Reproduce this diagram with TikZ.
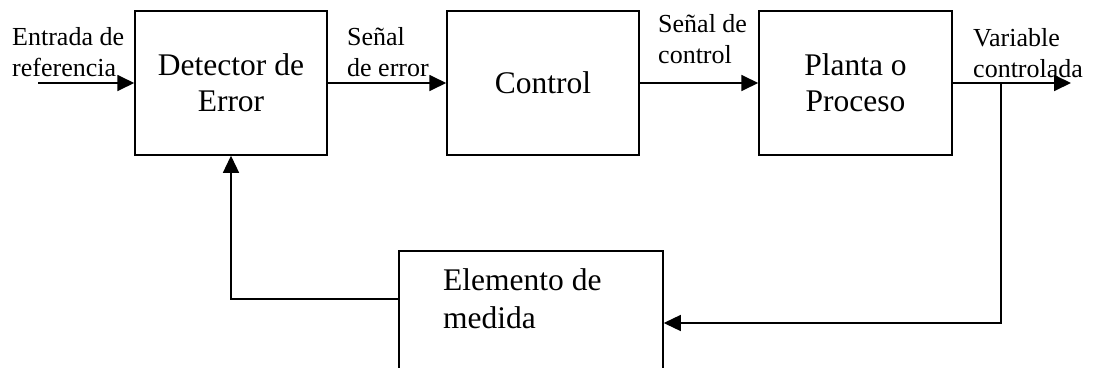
\documentclass[tikz,border=0pt]{standalone}
\usepackage{fontspec}
\setmainfont{Liberation Serif}
\usetikzlibrary{arrows.meta,calc}
\begin{document}
\begin{tikzpicture}[x=1pt,y=-1pt,
  blk/.style={draw,line width=1.5pt,minimum height=144pt,inner sep=0pt,font=\fontsize{31.5}{36}\selectfont,align=center},
  lbl/.style={font=\fontsize{26}{31}\selectfont,align=left,inner sep=0pt,anchor=base west},
  tip/.style={-{Triangle[length=17pt,width=16pt]}},
  wire/.style={line width=1.8pt},
  fb/.style={line width=1.3pt},
  arr/.style={wire,tip}]
\useasboundingbox (0,0) rectangle (1095,367);
\node[blk,minimum width=192pt] (det) at (231,83) {Detector de\\Error};
\node[blk,minimum width=192pt] (ctl) at (543,83) {Control};
\node[blk,minimum width=193pt] (pla) at (855.5,83) {Planta o\\Proceso};
\node[blk,minimum width=264pt] (med) at (531,323) {};
\node[lbl,font=\fontsize{31.5}{38}\selectfont] (medtxt) at (443,328) {Elemento de\\medida};
\node[lbl] (ent) at (12,76) {Entrada de\\referencia};
\node[lbl] (se) at (347,76) {Señal\\de error};
\node[lbl] (sc) at (658,63) {Señal de\\control};
\node[lbl] (var) at (973,77) {Variable\\controlada};
\coordinate (in) at (38,83);
\coordinate (out) at (1071,83);
\coordinate (br) at (1001,83);
\draw[arr] (in) -- (det.west);
\draw[arr] (det.east) -- (ctl.west);
\draw[arr] (ctl.east) -- (pla.west);
\draw[arr] (pla.east) -- (out);
\draw[fb,tip] (br) |- (med.east);
\draw[fb,tip] ($(med.west)+(0,-24)$) -| (det.south);
\end{tikzpicture}
\end{document}
